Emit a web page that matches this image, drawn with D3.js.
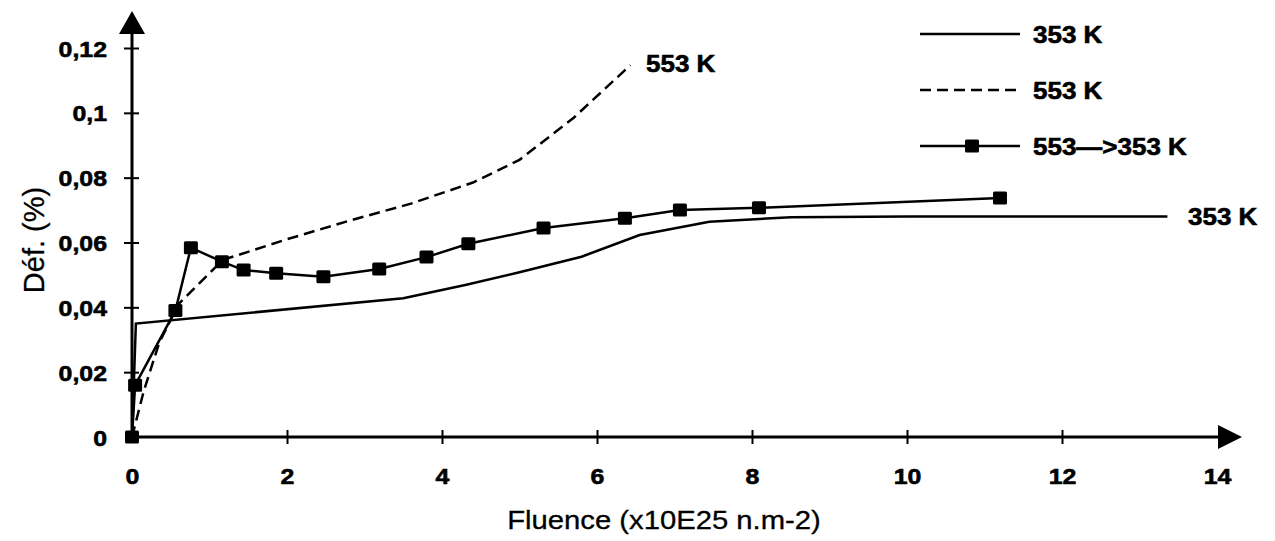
<!DOCTYPE html>
<html>
<head>
<meta charset="utf-8">
<script src="https://cdn.jsdelivr.net/npm/d3@7"></script>
<style>
  html, body { margin: 0; padding: 0; background: #fff; }
  svg { display: block; font-family: "Liberation Sans", Arial, sans-serif; }
</style>
</head>
<body>
<svg id="chart" width="1275" height="541"></svg>
<script>
// ---- data ----
const xTicks = [0, 2, 4, 6, 8, 10, 12, 14];
const yTicks = [0, 0.02, 0.04, 0.06, 0.08, 0.1, 0.12];

const fluence353 = [0, 0.05, 3.5, 4.3, 5.0, 5.8, 6.55, 7.45, 8.5, 10, 13.36];
const def353     = [0, 0.035, 0.0428, 0.0469, 0.0508, 0.0556, 0.0623, 0.0664, 0.0678, 0.068, 0.068];

const fluence553 = [0, 0.15, 0.35, 0.6, 1.17, 2.0, 2.8, 3.6, 4.4, 5.0, 5.7, 6.43];
const def553     = [0, 0.014, 0.029, 0.041, 0.0546, 0.061, 0.0667, 0.072, 0.0785, 0.0855, 0.0985, 0.1147];

const fluenceMix = [0, 0.04, 0.56, 0.76, 1.16, 1.44, 1.86, 2.47, 3.19, 3.8, 4.34, 5.31, 6.36, 7.07, 8.09, 11.2];
const defMix     = [0, 0.016, 0.039, 0.0584, 0.0541, 0.0515, 0.0505, 0.0494, 0.0518, 0.0555, 0.0596, 0.0645, 0.0675, 0.070, 0.0707, 0.0737];

const legendLabels = ["353 K", "553 K", "553\u2014>353 K"];
const xTitle = "Fluence (x10E25 n.m-2)";
const yTitle = "Déf. (%)";

// ---- setup ----
const svg = d3.select("#chart");
const SX = 1.13; // horizontal stretch of the scanned text
const x = d3.scaleLinear().domain([0, 14]).range([132, 132 + 14 * 77.5]);
const y = d3.scaleLinear().domain([0, 0.12]).range([437, 48]);

function stretchText(sel, tx, ty, sx) {
  sel.attr("x", 0).attr("y", 0).attr("dy", null)
     .attr("transform", `translate(${tx},${ty}) scale(${sx},1)`);
}
function heavy(sel) {
  sel.attr("stroke", "#000").attr("stroke-width", 0.6).attr("fill", "#000");
}

const zip = (xs, ys) => xs.map((v, i) => [v, ys[i]]);
const line = d3.line().x(d => x(d[0])).y(d => y(d[1]));

// ---- axes ----
const yAxis = d3.axisLeft(y).tickValues(yTicks).tickSizeOuter(0)
  .tickFormat(d => d === 0 ? "0" : String(+d.toFixed(2)).replace(".", ","));
const gy = svg.append("g").attr("transform", `translate(${x(0)},0)`).call(yAxis);
gy.select(".domain").remove();
gy.selectAll(".tick line").attr("x1", -8).attr("x2", 7)
  .attr("stroke", "#000").attr("stroke-width", 2)
  .style("display", d => d === 0 ? "none" : null);
gy.selectAll(".tick text").attr("font-size", 22).attr("font-weight", "bold")
  .attr("text-anchor", "end").call(heavy)
  .each(function() { stretchText(d3.select(this), -25, 8, SX); });

const xAxis = d3.axisBottom(x).tickValues(xTicks).tickSizeOuter(0).tickFormat(d => d);
const gx = svg.append("g").attr("transform", `translate(0,${y(0)})`).call(xAxis);
gx.select(".domain").remove();
gx.selectAll(".tick line").attr("y1", -7).attr("y2", 7)
  .attr("stroke", "#000").attr("stroke-width", 2)
  .style("display", d => (d === 0 || d === 14) ? "none" : null);
gx.selectAll(".tick text").attr("font-size", 22).attr("font-weight", "bold")
  .attr("text-anchor", "middle").call(heavy)
  .each(function() { stretchText(d3.select(this), 0, 47, SX); });

// axis lines with arrows
svg.append("line").attr("x1", x(0)).attr("x2", 1222).attr("y1", y(0)).attr("y2", y(0))
  .attr("stroke", "#000").attr("stroke-width", 3);
svg.append("line").attr("x1", x(0)).attr("x2", x(0)).attr("y1", y(0)).attr("y2", 28)
  .attr("stroke", "#000").attr("stroke-width", 3);
svg.append("path").attr("d", `M${x(0)},11 L${x(0) - 13},34 L${x(0) + 13},34 Z`).attr("fill", "#000");
svg.append("path").attr("d", `M1242,${y(0)} L1218,${y(0) - 12} L1218,${y(0) + 12} Z`).attr("fill", "#000");

// ---- series ----
svg.append("path").datum(zip(fluence353, def353)).attr("d", line)
  .attr("fill", "none").attr("stroke", "#000").attr("stroke-width", 2.5);
svg.append("path").datum(zip(fluence553, def553)).attr("d", line)
  .attr("fill", "none").attr("stroke", "#000").attr("stroke-width", 2.5)
  .attr("stroke-dasharray", "11,6");
const mix = zip(fluenceMix, defMix);
svg.append("path").datum(mix).attr("d", line)
  .attr("fill", "none").attr("stroke", "#000").attr("stroke-width", 2.5);
svg.append("g").selectAll("rect").data(mix).join("rect")
  .attr("x", d => x(d[0]) - 7).attr("y", d => y(d[1]) - 6.5)
  .attr("width", 14).attr("height", 13).attr("rx", 1.5).attr("fill", "#000");

// end labels
const lbl1 = svg.append("text").text(legendLabels[0]).attr("font-size", 23).attr("font-weight", "bold").call(heavy);
stretchText(lbl1, 1188, y(def353[def353.length - 1]) + 8, SX);
const lbl2 = svg.append("text").text(legendLabels[1]).attr("font-size", 23).attr("font-weight", "bold").call(heavy);
stretchText(lbl2, 646, 72, SX);

// ---- legend ----
const legY = [34, 90, 146];
const leg = svg.append("g");
leg.append("line").attr("x1", 920).attr("x2", 1020).attr("y1", legY[0]).attr("y2", legY[0])
  .attr("stroke", "#000").attr("stroke-width", 2.5);
leg.append("line").attr("x1", 920).attr("x2", 1020).attr("y1", legY[1]).attr("y2", legY[1])
  .attr("stroke", "#000").attr("stroke-width", 2.5).attr("stroke-dasharray", "11,6");
leg.append("line").attr("x1", 920).attr("x2", 1020).attr("y1", legY[2]).attr("y2", legY[2])
  .attr("stroke", "#000").attr("stroke-width", 2.5);
leg.append("rect").attr("x", 972 - 7).attr("y", legY[2] - 6.5).attr("width", 14).attr("height", 13)
  .attr("rx", 1.5).attr("fill", "#000");
legendLabels.forEach((t, i) => {
  const tx = leg.append("text").text(t).attr("font-size", 23).attr("font-weight", "bold").call(heavy);
  stretchText(tx, 1033, legY[i] + 9, SX);
});

// ---- titles ----
const xt = svg.append("text").text(xTitle).attr("font-size", 25).attr("text-anchor", "middle")
  .attr("stroke", "#000").attr("stroke-width", 0.3);
stretchText(xt, 664, 529, 1.17);
svg.append("text").text(yTitle).attr("font-size", 29).attr("text-anchor", "middle")
  .attr("stroke", "#000").attr("stroke-width", 0.3)
  .attr("transform", `translate(44,240) rotate(-90)`);
</script>
</body>
</html>
